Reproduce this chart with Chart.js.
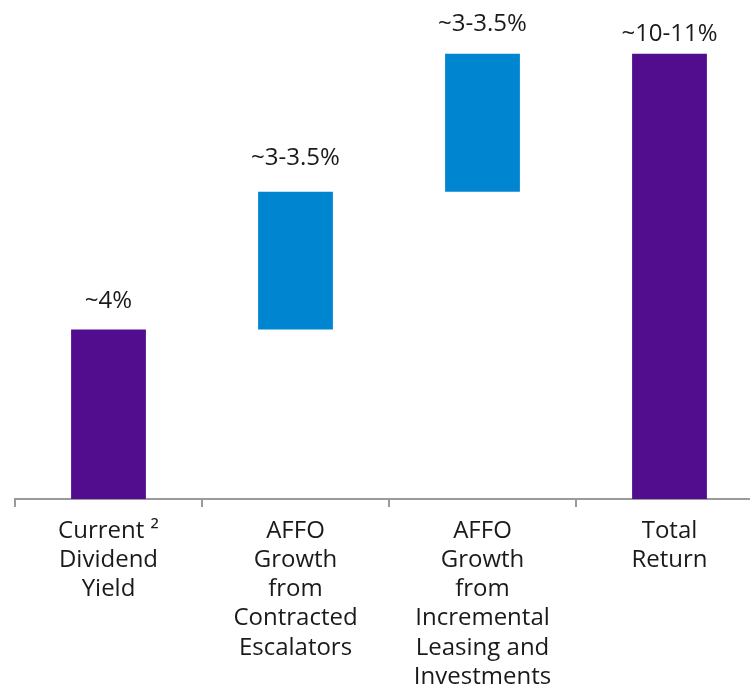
<!DOCTYPE html>
<html>
<head>
<meta charset="utf-8">
<script src="https://cdn.jsdelivr.net/npm/chart.js"></script>
<style>
  html, body { margin: 0; padding: 0; background: #fff; overflow: hidden; }
  #wrap { width: 750px; height: 684px; overflow: hidden; }
</style>
</head>
<body>
<div id="wrap"><canvas id="returns" width="765" height="684"></canvas></div>
<script>
// return build-up, in percent
const categories = [
  ['Current \u00b2', 'Dividend', 'Yield'],
  ['AFFO', 'Growth', 'from', 'Contracted', 'Escalators'],
  ['AFFO', 'Growth', 'from', 'Incremental', 'Leasing and', 'Investments'],
  ['Total', 'Return']
];
const barStart = [0, 4, 7.25, 0];
const barEnd = [4, 7.25, 10.5, 10.5];
const valueLabels = ['~4%', '~3-3.5%', '~3-3.5%', '~10-11%'];
const barColors = ['#520c8e', '#0086d1', '#0086d1', '#520c8e'];

const FONT = '"Open Sans", sans-serif';

// writes the range text above each floating bar
const valueLabelPlugin = {
  id: 'valueLabels',
  afterDatasetsDraw(chart) {
    const { ctx } = chart;
    const meta = chart.getDatasetMeta(0);
    const gaps = [28, 33, 30, 20];
    ctx.save();
    ctx.font = '24px ' + FONT;
    ctx.fillStyle = '#1a1a1a';
    ctx.textAlign = 'center';
    ctx.textBaseline = 'middle';
    meta.data.forEach((bar, i) => {
      ctx.fillText(valueLabels[i], bar.x, bar.y - gaps[i]);
    });
    ctx.restore();
  }
};

new Chart(document.getElementById('returns'), {
  type: 'bar',
  data: {
    labels: categories,
    datasets: [{
      data: barStart.map((s, i) => [s, barEnd[i]]),
      backgroundColor: barColors,
      borderSkipped: false,
      barPercentage: 0.8,
      categoryPercentage: 0.5
    }]
  },
  options: {
    responsive: false,
    animation: false,
    layout: { padding: { left: 15, right: 2, top: 0, bottom: 0 } },
    plugins: { legend: { display: false }, tooltip: { enabled: false } },
    scales: {
      x: {
        offset: true,
        afterFit(scale) { scale.height = 185; },
        border: { color: '#9a9a9a', width: 2 },
        grid: { display: true, drawOnChartArea: false, tickLength: 8, color: '#9a9a9a', lineWidth: 2, offset: true },
        ticks: {
          color: '#1a1a1a',
          padding: 10,
          maxRotation: 0,
          autoSkip: false,
          font: { family: FONT, size: 24, lineHeight: 1.21 }
        }
      },
      y: {
        display: false,
        min: 0,
        max: 11.77
      }
    }
  },
  plugins: [valueLabelPlugin]
});
</script>
</body>
</html>
